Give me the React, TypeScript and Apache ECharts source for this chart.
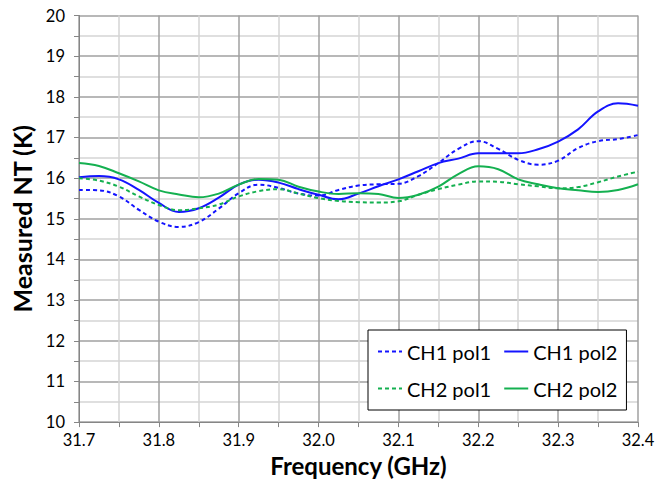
import React, { useEffect, useRef } from "react";
import * as echarts from "echarts";

const freqs = [31.7, 31.725, 31.75, 31.775, 31.8, 31.825, 31.85, 31.875, 31.9, 31.925, 31.95, 31.975, 32.0, 32.025, 32.05, 32.075, 32.1, 32.125, 32.15, 32.175, 32.2, 32.225, 32.25, 32.275, 32.3, 32.325, 32.35, 32.375, 32.4];

const ch1pol1 = [15.71, 15.70, 15.55, 15.22, 14.93, 14.80, 14.92, 15.25, 15.63, 15.84, 15.76, 15.62, 15.57, 15.71, 15.82, 15.85, 15.86, 16.05, 16.37, 16.72, 16.91, 16.72, 16.45, 16.33, 16.43, 16.74, 16.91, 16.96, 17.06];
const ch1pol2 = [16.02, 16.05, 15.97, 15.71, 15.39, 15.17, 15.26, 15.52, 15.84, 15.96, 15.89, 15.73, 15.59, 15.48, 15.62, 15.80, 15.97, 16.17, 16.37, 16.48, 16.61, 16.61, 16.61, 16.71, 16.90, 17.20, 17.64, 17.84, 17.78];
const ch2pol1 = [16.00, 15.94, 15.79, 15.55, 15.34, 15.21, 15.26, 15.35, 15.55, 15.68, 15.73, 15.62, 15.51, 15.44, 15.41, 15.40, 15.43, 15.59, 15.73, 15.84, 15.92, 15.91, 15.85, 15.80, 15.75, 15.78, 15.90, 16.04, 16.16];
const ch2pol2 = [16.37, 16.30, 16.12, 15.92, 15.70, 15.60, 15.53, 15.62, 15.84, 15.98, 15.96, 15.79, 15.67, 15.61, 15.63, 15.61, 15.51, 15.59, 15.79, 16.10, 16.29, 16.22, 15.97, 15.85, 15.75, 15.70, 15.66, 15.71, 15.85];

const seriesNames = ["CH1 pol1", "CH1 pol2", "CH2 pol1", "CH2 pol2"];
const seriesColors = ["#1414ff", "#1414ff", "#14b050", "#14b050"];
const seriesDashed = [true, false, true, false];
const seriesValues = [ch1pol1, ch1pol2, ch2pol1, ch2pol2];

const FONT = "Lato, 'Noto Sans', sans-serif";

export default function App() {
  const ref = useRef<HTMLDivElement>(null);
  useEffect(() => {
    if (!ref.current) return;
    const chart = echarts.init(ref.current, undefined, { renderer: "svg" });
    const axisCommon = {
      axisLine: { show: true, lineStyle: { color: "#868686", width: 1 } },
      axisTick: { show: true, length: 5, lineStyle: { color: "#868686" } },
      minorTick: { show: true, splitNumber: 2, length: 5, lineStyle: { color: "#868686" } },
      splitLine: { show: true, lineStyle: { color: "#a0a0a0", width: 1.5 } },
      minorSplitLine: { show: true, lineStyle: { color: "#d4d4d4", width: 1.5 } },
    };
    chart.setOption({
      animation: false,
      backgroundColor: "#ffffff",
      grid: { left: 79, right: 26, top: 15.5, bottom: 59.5, containLabel: false },
      xAxis: {
        type: "value",
        min: 31.7,
        max: 32.4,
        interval: 0.1,
        name: "Frequency (GHz)",
        nameLocation: "middle",
        nameGap: 30,
        nameTextStyle: { fontFamily: FONT, fontWeight: "bold", fontSize: 24, color: "#000" },
        axisLabel: {
          fontFamily: FONT,
          fontSize: 16.5,
          color: "#000",
          margin: 9,
          formatter: (v: number) => v.toFixed(1),
        },
        ...axisCommon,
      },
      yAxis: {
        type: "value",
        min: 10,
        max: 20,
        interval: 1,
        name: "Measured NT (K)",
        nameLocation: "middle",
        nameGap: 42,
        nameTextStyle: { fontFamily: FONT, fontWeight: "bold", fontSize: 25, color: "#000" },
        axisLabel: { fontFamily: FONT, fontSize: 16.5, color: "#000", margin: 14 },
        ...axisCommon,
      },
      legend: {
        left: 368,
        top: 330,
        width: 252,
        orient: "horizontal",
        padding: [9, 9, 9, 9],
        itemGap: 12,
        itemWidth: 24,
        itemHeight: 14,
        borderColor: "#000",
        borderWidth: 1,
        backgroundColor: "#fff",
        itemStyle: { opacity: 0 },
        data: seriesNames,
        textStyle: { fontFamily: FONT, fontSize: 20, color: "#000", lineHeight: 25 },
      },
      series: seriesNames.map((name, i) => ({
        name,
        type: "line",
        data: freqs.map((f, j) => [f, seriesValues[i][j]]),
        smooth: 0.4,
        symbol: "none",
        lineStyle: {
          color: seriesColors[i],
          width: 2,
          type: seriesDashed[i] ? [4, 3] : "solid",
        },
        itemStyle: { color: seriesColors[i] },
        z: 3,
      })),
    });
    return () => chart.dispose();
  }, []);
  return <div ref={ref} style={{ width: 664, height: 482, position: "absolute", left: 0, top: 0 }} />;
}
